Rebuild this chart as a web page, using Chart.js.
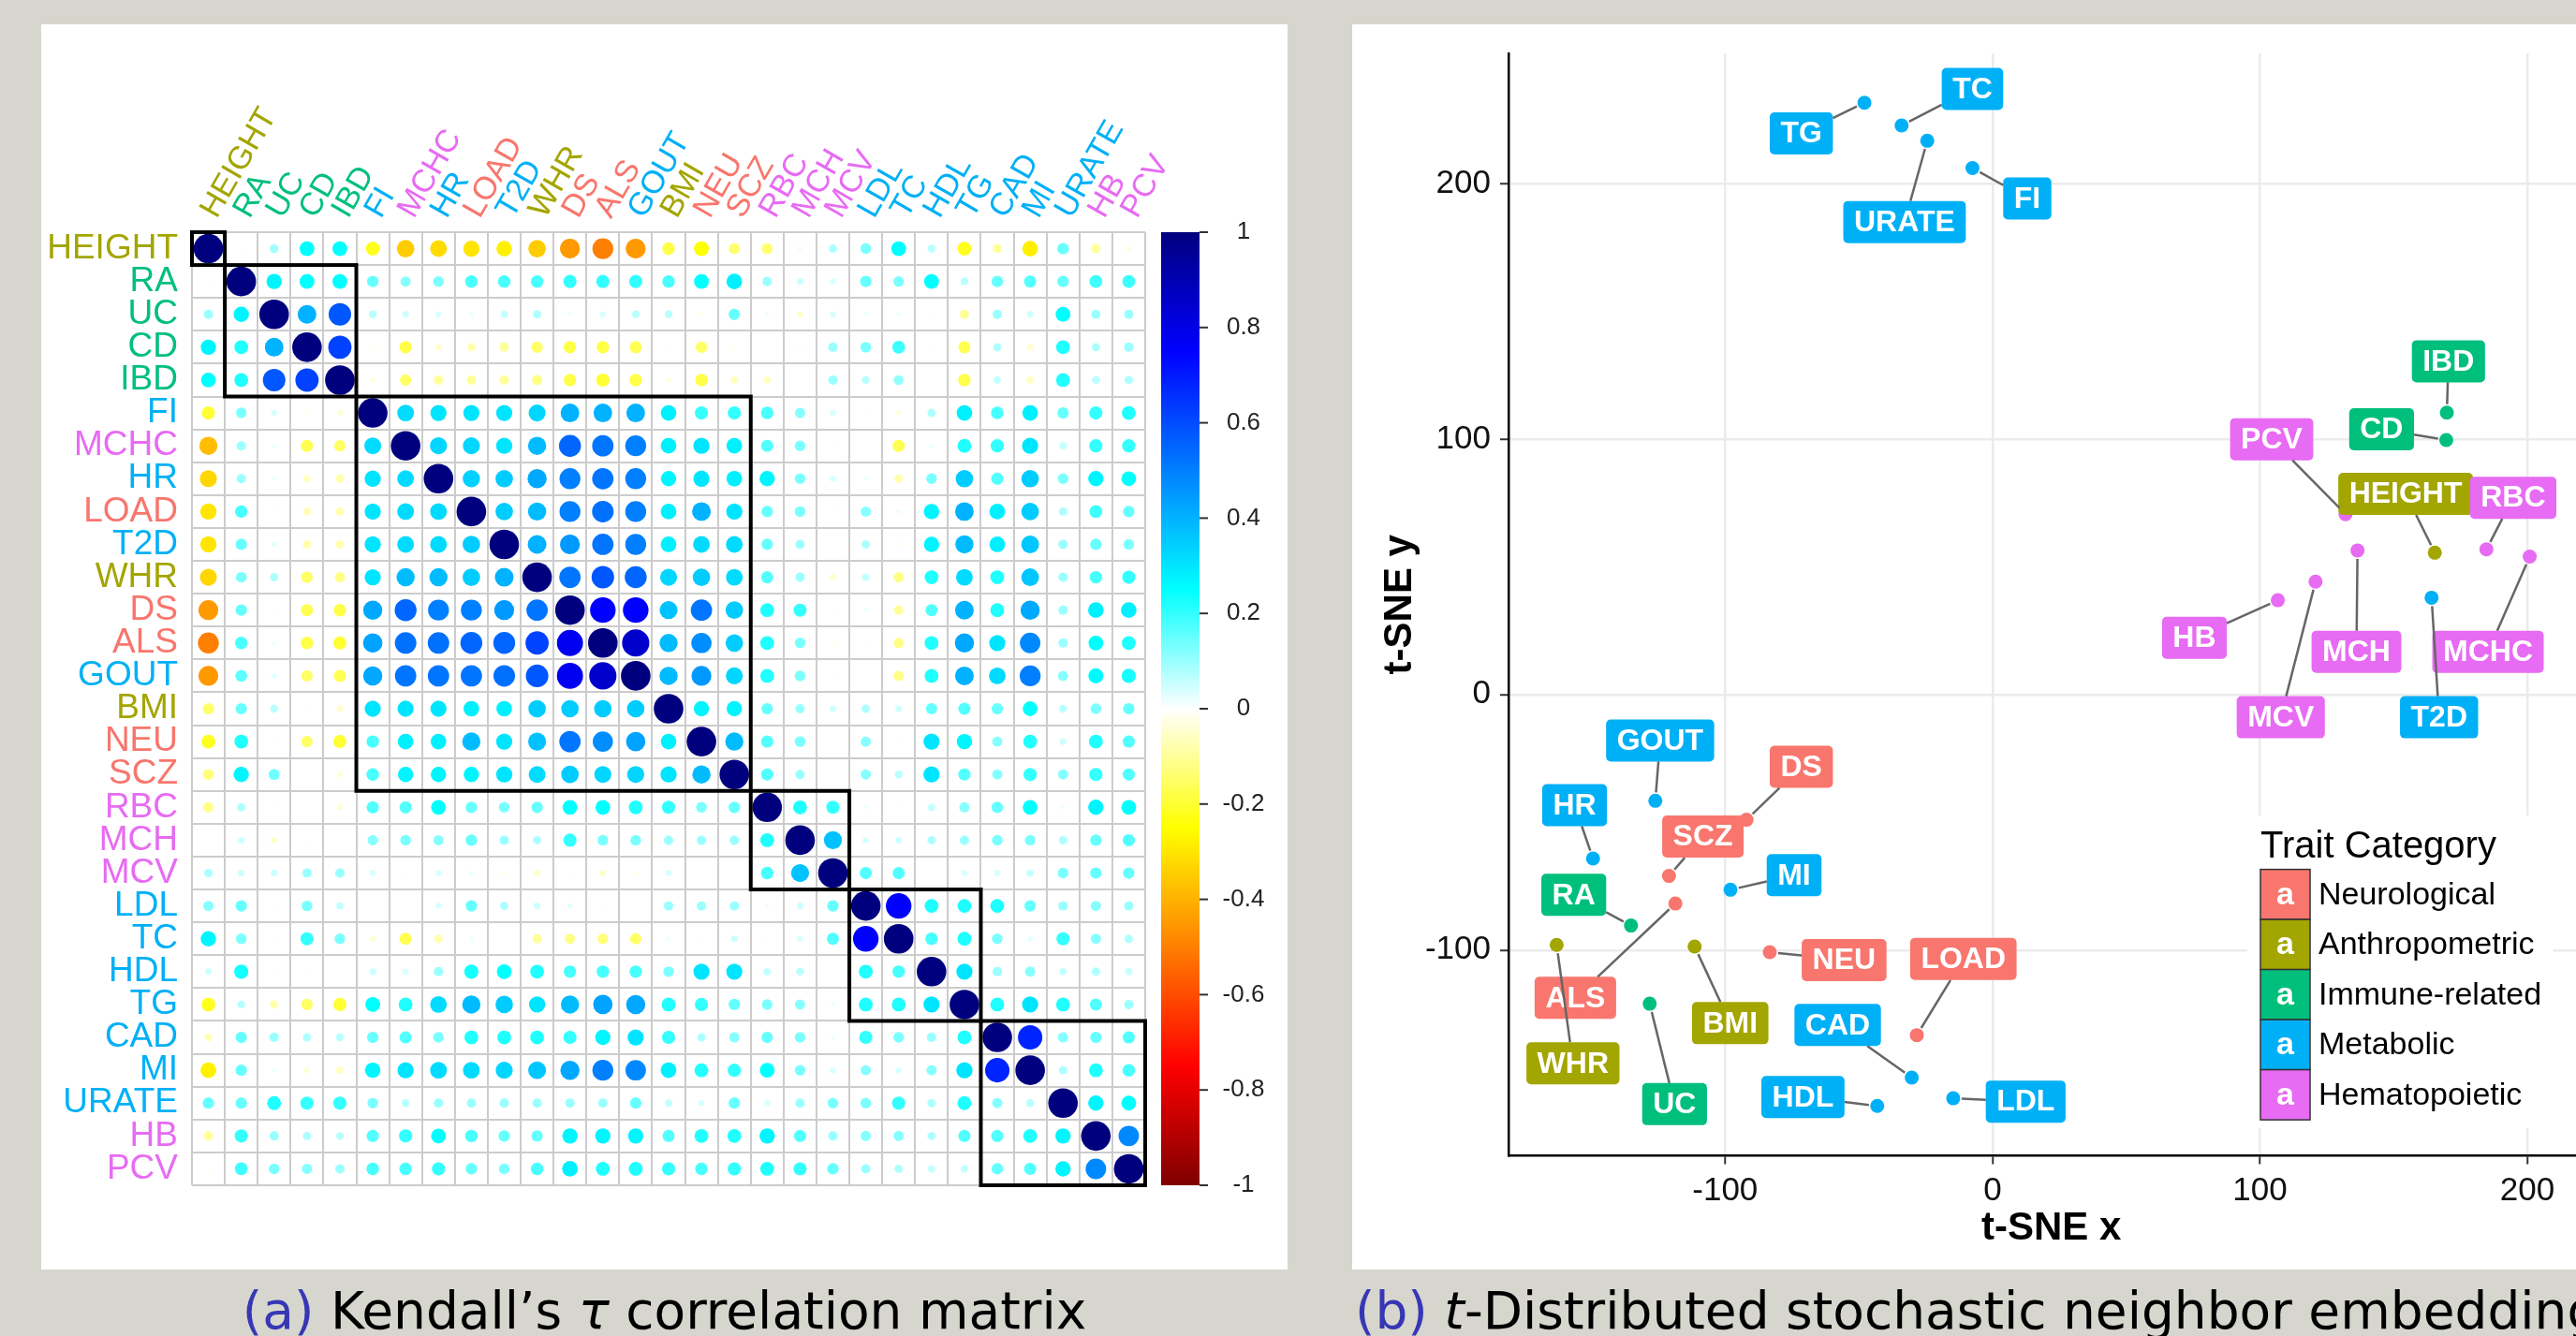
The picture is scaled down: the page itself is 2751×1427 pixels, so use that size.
<!DOCTYPE html>
<html>
<head>
<meta charset="utf-8">
<script src="https://cdn.jsdelivr.net/npm/chart.js@4.4.1/dist/chart.umd.min.js"></script>
<style>
html, body { margin: 0; padding: 0; overflow: hidden; }
body { width: 2751px; height: 1427px; background: #d6d6ce; position: relative; }
.panel { position: absolute; background: #fff; }
.panel canvas { display: block; }
#pa { left: 44px; top: 26px; width: 1331px; height: 1330px; }
#pb { left: 1444px; top: 26px; width: 1340px; height: 1330px; }
.cap { position: absolute; top: 1373px; font-family: 'DejaVu Sans'; font-size: 55px; line-height: 55px; white-space: nowrap; color: #000; }
.cap .lab { color: #3737b5; }
</style>
</head>
<body>
<div class="panel" id="pa"><canvas id="corr" width="1331" height="1330"></canvas></div>
<div class="panel" id="pb"><canvas id="tsne" width="1340" height="1330"></canvas></div>
<div class="cap" style="left:44px;width:1331px;text-align:center"><span class="lab">(a)</span> Kendall’s <i>τ</i> correlation matrix</div>
<div class="cap" style="left:1447px"><span class="lab">(b)</span> <i>t</i>-Distributed stochastic neighbor embedding</div>

<script>
// traits, in the order of the clustered matrix
var traits = ['HEIGHT','RA','UC','CD','IBD','FI','MCHC','HR','LOAD','T2D','WHR','DS','ALS','GOUT','BMI','NEU','SCZ','RBC','MCH','MCV','LDL','TC','HDL','TG','CAD','MI','URATE','HB','PCV'];
// 0 Neurological, 1 Anthropometric, 2 Immune-related, 3 Metabolic, 4 Hematopoietic
var traitGroup = [1,2,2,2,2,3,4,3,0,3,1,0,0,3,1,0,0,4,4,4,3,3,3,3,3,3,3,4,4];
var groupNames = ['Neurological','Anthropometric','Immune-related','Metabolic','Hematopoietic'];
var groupColors = ['#F8766D','#A3A500','#00BF7D','#00B0F6','#E76BF3'];

// Kendall's tau, one row per trait
var tau = [
	[1,0.01,0.09,0.25,0.25,-0.22,-0.35,-0.32,-0.30,-0.28,-0.35,-0.45,-0.50,-0.45,-0.18,-0.25,-0.14,-0.14,0.02,0.08,0.13,0.25,0.07,-0.22,-0.10,-0.28,0.15,-0.10,-0.03],
	[0.01,1,0.27,0.25,0.25,0.15,0.12,0.13,0.18,0.18,0.18,0.20,0.20,0.20,0.18,0.25,0.28,0.10,0.05,0.04,0.15,0.13,0.25,0.07,0.15,0.17,0.15,0.19,0.19],
	[0.10,0.27,1,0.40,0.58,0.07,0.05,0.04,0.02,0.06,0.08,0.02,0.04,0.07,0.07,-0.02,0.15,0.02,-0.05,0.04,0.02,0.02,0.01,-0.10,0.10,0.05,0.25,0.10,0.10],
	[0.27,0.22,0.40,1,0.62,-0.02,-0.18,-0.05,-0.08,-0.10,-0.15,-0.18,-0.18,-0.17,0.01,-0.15,-0.02,-0.01,0.01,0.10,0.13,0.19,0.01,-0.17,0.08,-0.05,0.22,0.08,0.10],
	[0.25,0.22,0.58,0.62,1,-0.03,-0.15,-0.10,-0.10,-0.10,-0.12,-0.18,-0.20,-0.18,-0.03,-0.18,-0.06,-0.06,-0.01,0.10,0.07,0.11,-0.01,-0.18,0.06,-0.06,0.22,0.07,0.08],
	[-0.20,0.13,0.04,-0.02,-0.04,1,0.32,0.30,0.30,0.30,0.33,0.40,0.40,0.40,0.28,0.20,0.20,0.18,0.12,0.04,0.01,-0.03,0.08,0.28,0.18,0.28,0.15,0.20,0.22],
	[-0.38,0.10,0.02,-0.17,-0.15,0.32,1,0.33,0.33,0.30,0.38,0.55,0.52,0.50,0.28,0.30,0.28,0.17,0.13,0.01,-0.01,-0.17,0.02,0.22,0.20,0.30,0.06,0.20,0.20],
	[-0.33,0.10,0.02,-0.06,-0.08,0.30,0.32,1,0.34,0.35,0.42,0.50,0.52,0.50,0.27,0.30,0.28,0.27,0.13,0.04,0.02,-0.08,0.13,0.35,0.17,0.35,0.13,0.27,0.25],
	[-0.30,0.18,0.01,-0.07,-0.08,0.30,0.32,0.32,1,0.35,0.38,0.50,0.53,0.50,0.28,0.40,0.30,0.15,0.13,0.01,0.12,0.02,0.27,0.40,0.28,0.35,0.08,0.19,0.15],
	[-0.30,0.15,0.03,-0.08,-0.08,0.30,0.32,0.32,0.35,1,0.40,0.45,0.52,0.50,0.28,0.32,0.32,0.15,0.10,-0.01,0.08,-0.02,0.27,0.38,0.28,0.36,0.10,0.15,0.13],
	[-0.33,0.13,0.08,-0.15,-0.12,0.30,0.38,0.38,0.35,0.40,1,0.52,0.58,0.55,0.33,0.35,0.32,0.17,0.10,-0.05,0.06,-0.12,0.22,0.32,0.22,0.36,0.10,0.18,0.20],
	[-0.45,0.15,0.01,-0.17,-0.18,0.42,0.55,0.50,0.50,0.45,0.52,1,0.75,0.75,0.37,0.52,0.35,0.22,0.20,0.01,0.02,-0.10,0.17,0.40,0.22,0.42,0.10,0.28,0.28],
	[-0.50,0.18,0.02,-0.18,-0.20,0.43,0.53,0.53,0.55,0.55,0.62,0.78,1,0.85,0.38,0.47,0.35,0.22,0.13,-0.02,0.01,-0.12,0.22,0.42,0.30,0.48,0.10,0.25,0.22],
	[-0.45,0.16,0.03,-0.15,-0.17,0.42,0.52,0.52,0.52,0.53,0.58,0.78,0.85,1,0.38,0.45,0.33,0.22,0.13,0.01,-0.01,-0.12,0.22,0.40,0.32,0.50,0.12,0.26,0.23],
	[-0.15,0.15,0.07,0.01,-0.05,0.30,0.30,0.30,0.28,0.28,0.35,0.35,0.35,0.35,1,0.27,0.27,0.15,0.10,0.05,0.08,0.05,0.15,0.17,0.15,0.25,0.07,0.13,0.15],
	[-0.22,0.22,0.01,-0.15,-0.20,0.18,0.28,0.28,0.38,0.30,0.37,0.52,0.47,0.43,0.28,1,0.38,0.17,0.13,-0.01,0.12,0.01,0.30,0.27,0.12,0.22,0.05,0.22,0.17],
	[-0.13,0.27,0.14,-0.01,-0.04,0.18,0.27,0.27,0.27,0.30,0.32,0.35,0.33,0.33,0.30,0.38,1,0.17,0.10,-0.01,0.12,0.07,0.30,0.17,0.12,0.20,0.12,0.20,0.17],
	[-0.12,0.08,0.01,-0.01,-0.04,0.17,0.17,0.25,0.15,0.13,0.15,0.25,0.25,0.22,0.20,0.13,0.15,1,0.22,0.20,0.02,0.01,0.06,0.12,0.15,0.25,0.02,0.27,0.25],
	[0.01,0.05,-0.05,0.01,-0.01,0.12,0.13,0.12,0.15,0.10,0.08,0.20,0.13,0.13,0.10,0.10,0.10,0.22,1,0.37,0.04,0.05,0.08,0.10,0.13,0.13,0.08,0.15,0.17],
	[0.08,0.05,0.05,0.10,0.10,0.04,0.01,0.04,0.02,-0.02,-0.05,0.01,-0.05,-0.02,0.04,-0.01,-0.01,0.18,0.37,1,0.17,0.17,-0.01,0.04,0.04,0.06,0.13,0.15,0.15],
	[0.12,0.15,0.01,0.13,0.06,-0.01,-0.01,0.04,0.15,0.08,0.05,0.03,0.01,-0.01,0.10,0.10,0.10,0.02,0.05,0.15,1,0.75,0.22,0.22,0.22,0.15,0.10,0.12,0.10],
	[0.27,0.13,0.01,0.20,0.13,-0.04,-0.17,-0.08,0.02,-0.01,-0.10,-0.12,-0.13,-0.15,0.02,0.01,0.05,0.01,0.04,0.17,0.75,1,0.18,0.22,0.13,0.03,0.20,0.12,0.08],
	[0.05,0.23,0.01,0.01,-0.01,0.05,0.04,0.10,0.23,0.25,0.22,0.18,0.18,0.18,0.13,0.30,0.30,0.06,0.07,-0.01,0.22,0.18,1,0.30,0.10,0.12,0.06,0.08,0.06],
	[-0.22,0.07,-0.08,-0.15,-0.20,0.25,0.22,0.32,0.38,0.35,0.30,0.38,0.43,0.42,0.22,0.20,0.15,0.13,0.12,0.02,0.22,0.22,0.30,1,0.22,0.30,0.22,0.17,0.10],
	[-0.07,0.15,0.10,0.08,0.07,0.15,0.17,0.13,0.22,0.22,0.22,0.20,0.27,0.30,0.20,0.08,0.12,0.15,0.13,0.02,0.20,0.13,0.10,0.22,1,0.68,0.12,0.15,0.17],
	[-0.28,0.15,0.02,-0.04,-0.06,0.27,0.30,0.32,0.32,0.33,0.36,0.42,0.50,0.48,0.28,0.22,0.20,0.25,0.13,0.04,0.12,0.04,0.12,0.30,0.68,1,0.08,0.22,0.18],
	[0.15,0.15,0.22,0.20,0.20,0.13,0.07,0.10,0.10,0.10,0.10,0.10,0.10,0.15,0.06,0.04,0.15,0.04,0.10,0.13,0.13,0.20,0.08,0.22,0.12,0.07,1,0.27,0.25],
	[-0.10,0.20,0.10,0.08,0.07,0.17,0.20,0.25,0.18,0.15,0.15,0.27,0.27,0.27,0.17,0.22,0.22,0.27,0.17,0.10,0.12,0.12,0.08,0.17,0.17,0.22,0.27,1,0.48],
	[-0.02,0.19,0.13,0.12,0.10,0.18,0.18,0.20,0.15,0.13,0.18,0.28,0.22,0.22,0.20,0.18,0.20,0.22,0.20,0.15,0.10,0.08,0.06,0.06,0.15,0.17,0.27,0.48,1]
];

// hierarchical clusters drawn as black boxes (first and last trait index)
var clusterStart = [0, 1, 5, 17, 20, 24];
var clusterEnd = [0, 4, 16, 19, 23, 28];
var colorbarTicks = [1, 0.8, 0.6, 0.4, 0.2, 0, -0.2, -0.4, -0.6, -0.8, -1];
// corrplot colour ramp from -1 to 1
var corrPalette = ['#7F0000','#FF0000','#FF7F00','#FFFF00','#FFFFFF','#00FFFF','#007FFF','#0000FF','#00007F'];

// t-SNE coordinates of each trait, and where its label sits
var tsneX = [165.4,-135.2,-128.2,169.7,169.9,-7.5,200.9,-149.4,-28.3,164.2,-163,-92,-118.6,-126.1,-111.4,-83.3,-121,184.7,136.5,120.8,-14.7,-34,-43.1,-47.9,-30.2,-98,-24.4,106.7,132];
var tsneY = [55.5,-90.4,-121,99.6,110.3,206,54,-64.2,-133.3,37.9,-98,-49,-81.8,-41.6,-98.6,-100.8,-71,56.8,56.4,44.2,-158,222.7,-161,231.6,-149.9,-76.4,216.7,36.9,70.6];
var labelX = [154.5,-156.6,-118.9,145.5,170.5,13,185.3,-156.3,-10.9,167,-156.9,-71.5,-156,-124.3,-98.1,-55.5,-108.3,194.7,136.1,107.8,12.4,-7.5,-70.9,-71.5,-57.9,-74.2,-32.9,75.5,104.4];
var labelY = [78.5,-78.4,-160.3,103.8,130.4,194.1,16.7,-43.3,-103.5,-8.9,-144.3,-28.3,-118.7,-18,-128.6,-103.9,-55.6,77,16.7,-8.9,-159.3,237,-157.5,219.6,-129.3,-70.7,184.9,22.2,99.9];
var tsneTicks = [-100, 0, 100, 200];

Chart.defaults.font.family = "'Liberation Sans', Arial, sans-serif";

function hexToRgb(h) {
	return [parseInt(h.substr(1, 2), 16), parseInt(h.substr(3, 2), 16), parseInt(h.substr(5, 2), 16)];
}

function corrColor(v) {
	var t = (v + 1) / 2 * (corrPalette.length - 1);
	var k = Math.min(Math.floor(t), corrPalette.length - 2);
	var f = t - k;
	var a = hexToRgb(corrPalette[k]);
	var b = hexToRgb(corrPalette[k + 1]);
	var c = a.map(function(x, i) { return Math.round(x + (b[i] - x) * f); });
	return 'rgb(' + c.join(',') + ')';
}

function traitColor(c) {
	return groupColors[traitGroup[c.index]];
}

// ---------- panel (a): correlation matrix ----------
var cells = [];
for (var i = 0; i < traits.length; i++) {
	for (var j = 0; j < traits.length; j++) {
		cells.push({x: traits[j], y: traits[i], v: tau[i][j]});
	}
}

function cellSize(chart) {
	return chart.scales.x.width / traits.length;
}

var corrExtras = {
	id: 'corrExtras',
	afterDatasetsDraw: function(chart) {
		var ctx = chart.ctx;
		var a = chart.chartArea;
		var xs = chart.scales.x, ys = chart.scales.y;
		var half = cellSize(chart) / 2;

		ctx.save();
		ctx.strokeStyle = '#000';
		ctx.lineWidth = 4;
		clusterStart.forEach(function(s, k) {
			var e = clusterEnd[k];
			var x0 = xs.getPixelForValue(s) - half, x1 = xs.getPixelForValue(e) + half;
			var y0 = ys.getPixelForValue(s) - half, y1 = ys.getPixelForValue(e) + half;
			ctx.strokeRect(x0, y0, x1 - x0, y1 - y0);
		});

		// colour key
		var bx = a.right + 17, bw = 41;
		var g = ctx.createLinearGradient(0, a.top, 0, a.bottom);
		for (var k = 0; k < corrPalette.length; k++) {
			g.addColorStop(k / (corrPalette.length - 1), corrPalette[corrPalette.length - 1 - k]);
		}
		ctx.fillStyle = g;
		ctx.fillRect(bx, a.top, bw, a.bottom - a.top);

		ctx.strokeStyle = '#333';
		ctx.lineWidth = 2;
		ctx.fillStyle = '#222';
		ctx.font = "26px 'Liberation Sans'";
		ctx.textAlign = 'center';
		ctx.textBaseline = 'middle';
		colorbarTicks.forEach(function(v) {
			var py = a.top + (1 - v) / 2 * (a.bottom - a.top);
			ctx.beginPath();
			ctx.moveTo(bx + bw, py);
			ctx.lineTo(bx + bw + 9, py);
			ctx.stroke();
			ctx.fillText(String(v), bx + bw + 47, py);
		});
		ctx.restore();
	}
};

new Chart(document.getElementById('corr'), {
	type: 'scatter',
	data: {
		datasets: [{
			data: cells,
			pointStyle: 'circle',
			pointRadius: function(c) { return 0.45 * cellSize(c.chart) * Math.sqrt(Math.abs(c.raw.v)); },
			pointHoverRadius: function(c) { return 0.45 * cellSize(c.chart) * Math.sqrt(Math.abs(c.raw.v)); },
			pointBackgroundColor: function(c) { return corrColor(c.raw.v); },
			pointBorderWidth: 0
		}]
	},
	options: {
		responsive: false,
		animation: false,
		events: [],
		layout: { padding: { top: 0, left: 0, right: 152, bottom: 90 } },
		plugins: { legend: { display: false }, tooltip: { enabled: false } },
		scales: {
			x: {
				type: 'category',
				labels: traits,
				position: 'top',
				offset: true,
				grid: { offset: true, color: '#cccccc', lineWidth: 2, drawTicks: false },
				border: { display: false },
				ticks: { autoSkip: false, minRotation: 60, maxRotation: 60, padding: 8, labelOffset: 36, color: traitColor, font: { size: 34 } },
				afterFit: function(s) { s.height = 222; }
			},
			y: {
				type: 'category',
				labels: traits,
				offset: true,
				grid: { offset: true, color: '#cccccc', lineWidth: 2, drawTicks: false },
				border: { display: false },
				ticks: { autoSkip: false, padding: 15, color: traitColor, font: { size: 37 } },
				afterFit: function(s) { s.width = 161; }
			}
		}
	},
	plugins: [corrExtras]
});

// ---------- panel (b): t-SNE ----------
function roundRect(ctx, x, y, w, h, r) {
	ctx.beginPath();
	ctx.moveTo(x + r, y);
	ctx.arcTo(x + w, y, x + w, y + h, r);
	ctx.arcTo(x + w, y + h, x, y + h, r);
	ctx.arcTo(x, y + h, x, y, r);
	ctx.arcTo(x, y, x + w, y, r);
	ctx.closePath();
}

var repelLabels = {
	id: 'repelLabels',
	afterDatasetsDraw: function(chart) {
		var ctx = chart.ctx;
		var xs = chart.scales.x, ys = chart.scales.y;
		ctx.save();
		ctx.font = "bold 32px 'Liberation Sans'";
		var boxes = traits.map(function(t, i) {
			return {
				cx: xs.getPixelForValue(labelX[i]),
				cy: ys.getPixelForValue(labelY[i]),
				w: ctx.measureText(t).width + 23,
				h: 45
			};
		});

		boxes.forEach(function(b, i) {
			ctx.fillStyle = groupColors[traitGroup[i]];
			roundRect(ctx, b.cx - b.w / 2, b.cy - b.h / 2, b.w, b.h, 5);
			ctx.fill();
			ctx.fillStyle = '#fff';
			ctx.textAlign = 'center';
			ctx.textBaseline = 'middle';
			ctx.fillText(traits[i], b.cx, b.cy + 1);
		});

		// segments from each point to the edge of its label
		ctx.strokeStyle = '#666';
		ctx.lineWidth = 2.5;
		boxes.forEach(function(b, i) {
			var px = xs.getPixelForValue(tsneX[i]), py = ys.getPixelForValue(tsneY[i]);
			var dx = b.cx - px, dy = b.cy - py;
			var len = Math.sqrt(dx * dx + dy * dy);
			if (len < 1) return;
			var te = 1 - Math.min(dx ? (b.w / 2) / Math.abs(dx) : Infinity, dy ? (b.h / 2) / Math.abs(dy) : Infinity);
			var ts = 9 / len;
			if (te <= ts) return;
			ctx.beginPath();
			ctx.moveTo(px + dx * ts, py + dy * ts);
			ctx.lineTo(px + dx * te, py + dy * te);
			ctx.stroke();
		});
		ctx.restore();
	},
	afterDraw: function(chart) {
		var ctx = chart.ctx;
		ctx.save();
		ctx.fillStyle = '#fff';
		ctx.fillRect(956, 845, 327, 334);
		ctx.fillStyle = '#000';
		ctx.font = "40px 'Liberation Sans'";
		ctx.textAlign = 'left';
		ctx.textBaseline = 'alphabetic';
		ctx.fillText('Trait Category', 970, 890);
		var key = 53.5;
		groupNames.forEach(function(name, k) {
			var top = 902.6 + k * key;
			ctx.fillStyle = groupColors[k];
			ctx.fillRect(970, top, 53, key);
			ctx.strokeStyle = '#333';
			ctx.lineWidth = 1.5;
			ctx.strokeRect(970, top, 53, key);
			ctx.fillStyle = '#fff';
			ctx.font = "bold 34px 'Liberation Sans'";
			ctx.textAlign = 'center';
			ctx.textBaseline = 'middle';
			ctx.fillText('a', 996.5, top + key / 2 + 1);
			ctx.fillStyle = '#000';
			ctx.font = "34px 'Liberation Sans'";
			ctx.textAlign = 'left';
			ctx.fillText(name, 1032, top + key / 2 + 1);
		});
		ctx.restore();
	}
};

function setTsneTicks(s) {
	s.ticks = tsneTicks.map(function(v) { return {value: v}; });
}

new Chart(document.getElementById('tsne'), {
	type: 'scatter',
	data: {
		datasets: [{
			data: traits.map(function(t, i) { return {x: tsneX[i], y: tsneY[i]}; }),
			pointRadius: 7.5,
			pointHoverRadius: 7.5,
			pointBackgroundColor: traitGroup.map(function(g) { return groupColors[g]; }),
			pointBorderWidth: 0
		}]
	},
	options: {
		responsive: false,
		animation: false,
		events: [],
		layout: { padding: { top: 22, left: 0, right: 13.6, bottom: 0 } },
		plugins: { legend: { display: false }, tooltip: { enabled: false } },
		scales: {
			x: {
				type: 'linear',
				min: -181,
				max: 225,
				grid: { color: '#ebebeb', lineWidth: 2.5, tickColor: '#333', tickLength: 9, tickWidth: 2 },
				border: { color: '#000', width: 2.5 },
				ticks: { padding: 8, color: '#111', font: { size: 35 } },
				afterBuildTicks: setTsneTicks,
				title: { display: true, text: 't-SNE x', color: '#000', font: { size: 42, weight: 'bold' }, padding: { top: 0, bottom: 18 } },
				afterFit: function(s) { s.height = 121.5; }
			},
			y: {
				type: 'linear',
				min: -180.5,
				max: 250.9,
				grid: { color: '#ebebeb', lineWidth: 2.5, tickColor: '#333', tickLength: 9, tickWidth: 2 },
				border: { color: '#000', width: 2.5 },
				ticks: { padding: 10, color: '#111', font: { size: 35 } },
				afterBuildTicks: setTsneTicks,
				title: { display: true, text: 't-SNE y', color: '#000', font: { size: 42, weight: 'bold' }, padding: { top: 26, bottom: 0 } },
				afterFit: function(s) { s.width = 167; }
			}
		}
	},
	plugins: [repelLabels]
});
</script>
</body>
</html>
